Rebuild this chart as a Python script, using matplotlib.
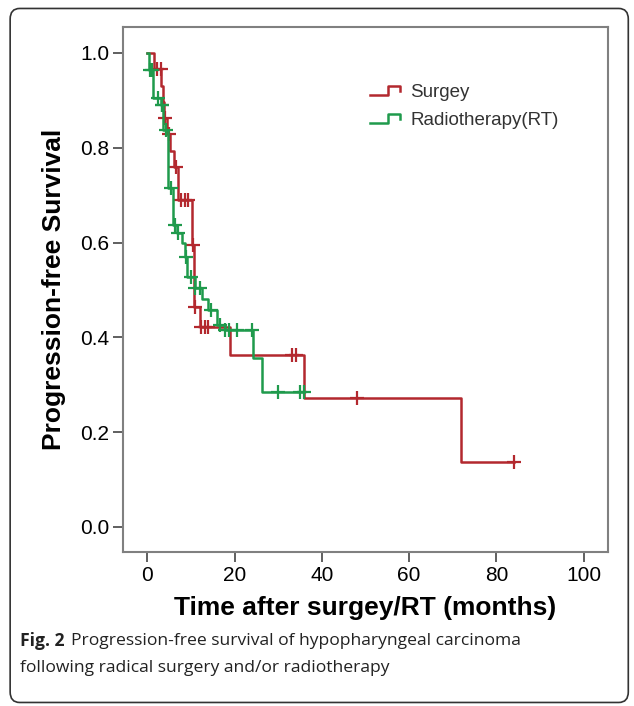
import numpy as np
import matplotlib.pyplot as plt
from matplotlib.patches import FancyBboxPatch
from matplotlib.legend_handler import HandlerBase
from matplotlib.lines import Line2D

# Surgery group: event times (months) and survival level after each event
surg_times = [0, 1.6, 3.2, 3.5, 3.8, 4.5, 5.2, 6.0, 7.1, 10.2, 10.7, 12.0, 19.0, 36.0, 72.0]
surg_surv = [1.0, 0.966, 0.931, 0.897, 0.862, 0.828, 0.793, 0.759, 0.690,
             0.595, 0.465, 0.422, 0.363, 0.272, 0.136]
surg_cens = [2.2, 3.0, 4.0, 5.0, 6.5, 7.6, 8.6, 9.3, 10.5, 10.9,
             12.3, 13.1, 13.8, 33.2, 34.1, 48.0, 84.0]

# Radiotherapy group
rt_times = [0, 0.3, 1.3, 3.0, 3.6, 4.8, 5.9, 6.8, 7.9, 8.6, 9.0, 10.9,
            12.5, 14.0, 15.9, 17.7, 24.3, 26.2]
rt_surv = [1.0, 0.964, 0.905, 0.890, 0.838, 0.715, 0.637, 0.620, 0.599, 0.570,
           0.528, 0.504, 0.480, 0.458, 0.426, 0.416, 0.356, 0.285]
rt_cens = [0.5, 1.0, 2.4, 3.4, 3.3, 4.2, 5.4, 6.3, 7.0, 8.8, 9.9, 11.0,
           12.0, 14.5, 16.6, 17.8, 18.6, 20.6, 24.0, 30.0, 35.0, 35.8]

x_ticks = [0, 20, 40, 60, 80, 100]
y_ticks = [0.0, 0.2, 0.4, 0.6, 0.8, 1.0]

red = '#b3282e'
green = '#1f9a4c'

plt.rcParams['font.family'] = ['Liberation Sans', 'DejaVu Sans']


class StepHandler(HandlerBase):
    # small step-shaped legend icon like SPSS
    def create_artists(self, legend, orig_handle, xdescent, ydescent,
                       width, height, fontsize, trans):
        x0 = -xdescent
        y0 = -ydescent
        xs = [x0, x0 + 0.6 * width, x0 + 0.6 * width, x0 + width, x0 + width]
        ys = [y0 + 0.15 * height, y0 + 0.15 * height, y0 + 0.85 * height,
              y0 + 0.85 * height, y0 + 0.45 * height]
        line = Line2D(xs, ys, color=orig_handle.get_color(),
                      lw=orig_handle.get_linewidth())
        line.set_transform(trans)
        return [line]


def draw_km(ax, times, surv, cens, color, label):
    t = np.array(times)
    s = np.array(surv)
    c = np.array(cens)
    end = max(t.max(), c.max())
    xs = np.append(t, end)
    ys = np.append(s, s[-1])
    line, = ax.step(xs, ys, where='post', color=color, lw=1.8, label=label)
    idx = np.searchsorted(t, c, side='right') - 1
    ax.plot(c, s[idx], linestyle='none', marker='+', color=color,
            markersize=10, markeredgewidth=1.6)
    return line


fig = plt.figure(figsize=(6.34, 7.06), dpi=100)
ax = fig.add_axes([0.194, 0.218, 0.765, 0.744])

l1 = draw_km(ax, surg_times, surg_surv, surg_cens, red, 'Surgey')
l2 = draw_km(ax, rt_times, rt_surv, rt_cens, green, 'Radiotherapy(RT)')

ax.set_xlim(-5.6, 105.6)
ax.set_ylim(-0.053, 1.055)
ax.set_xticks(x_ticks)
ax.set_yticks(y_ticks)
ax.set_xticklabels([str(v) for v in x_ticks])
ax.set_yticklabels(['%.1f' % v for v in y_ticks])
ax.tick_params(labelsize=15, length=7, width=1.2, color='#444444', pad=3)

for sp in ax.spines.values():
    sp.set_color('#808080')
    sp.set_linewidth(1.5)

ax.set_xlabel('Time after surgey/RT (months)', fontsize=19, fontweight='bold', labelpad=8)
ax.set_ylabel('Progression-free Survival', fontsize=19, fontweight='bold', labelpad=10)

leg = ax.legend(handles=[l1, l2], loc='upper left', bbox_to_anchor=(0.474, 0.923),
                frameon=False, fontsize=13.5, handlelength=1.6, handletextpad=0.55,
                labelspacing=0.55, handler_map={Line2D: StepHandler()})
for txt in leg.get_texts():
    txt.set_color('#333333')

# caption
fig.text(0.032, 0.092, 'Fig. 2', fontsize=12.6, fontweight='bold', family='Open Sans',
         color='#222222', va='center')
fig.text(0.112, 0.092, 'Progression-free survival of hypopharyngeal carcinoma',
         fontsize=12.6, family='Open Sans', color='#222222', va='center')
fig.text(0.032, 0.054, 'following radical surgery and/or radiotherapy',
         fontsize=12.6, family='Open Sans', color='#222222', va='center')

# rounded frame around the whole figure panel
frame = FancyBboxPatch((0.016, 0.005), 0.975, 0.983, boxstyle='round,pad=0,rounding_size=0.015',
                       transform=fig.transFigure, fill=False, edgecolor='#333333', lw=1.2)
fig.patches.append(frame)

plt.savefig('out.png', dpi=100)
